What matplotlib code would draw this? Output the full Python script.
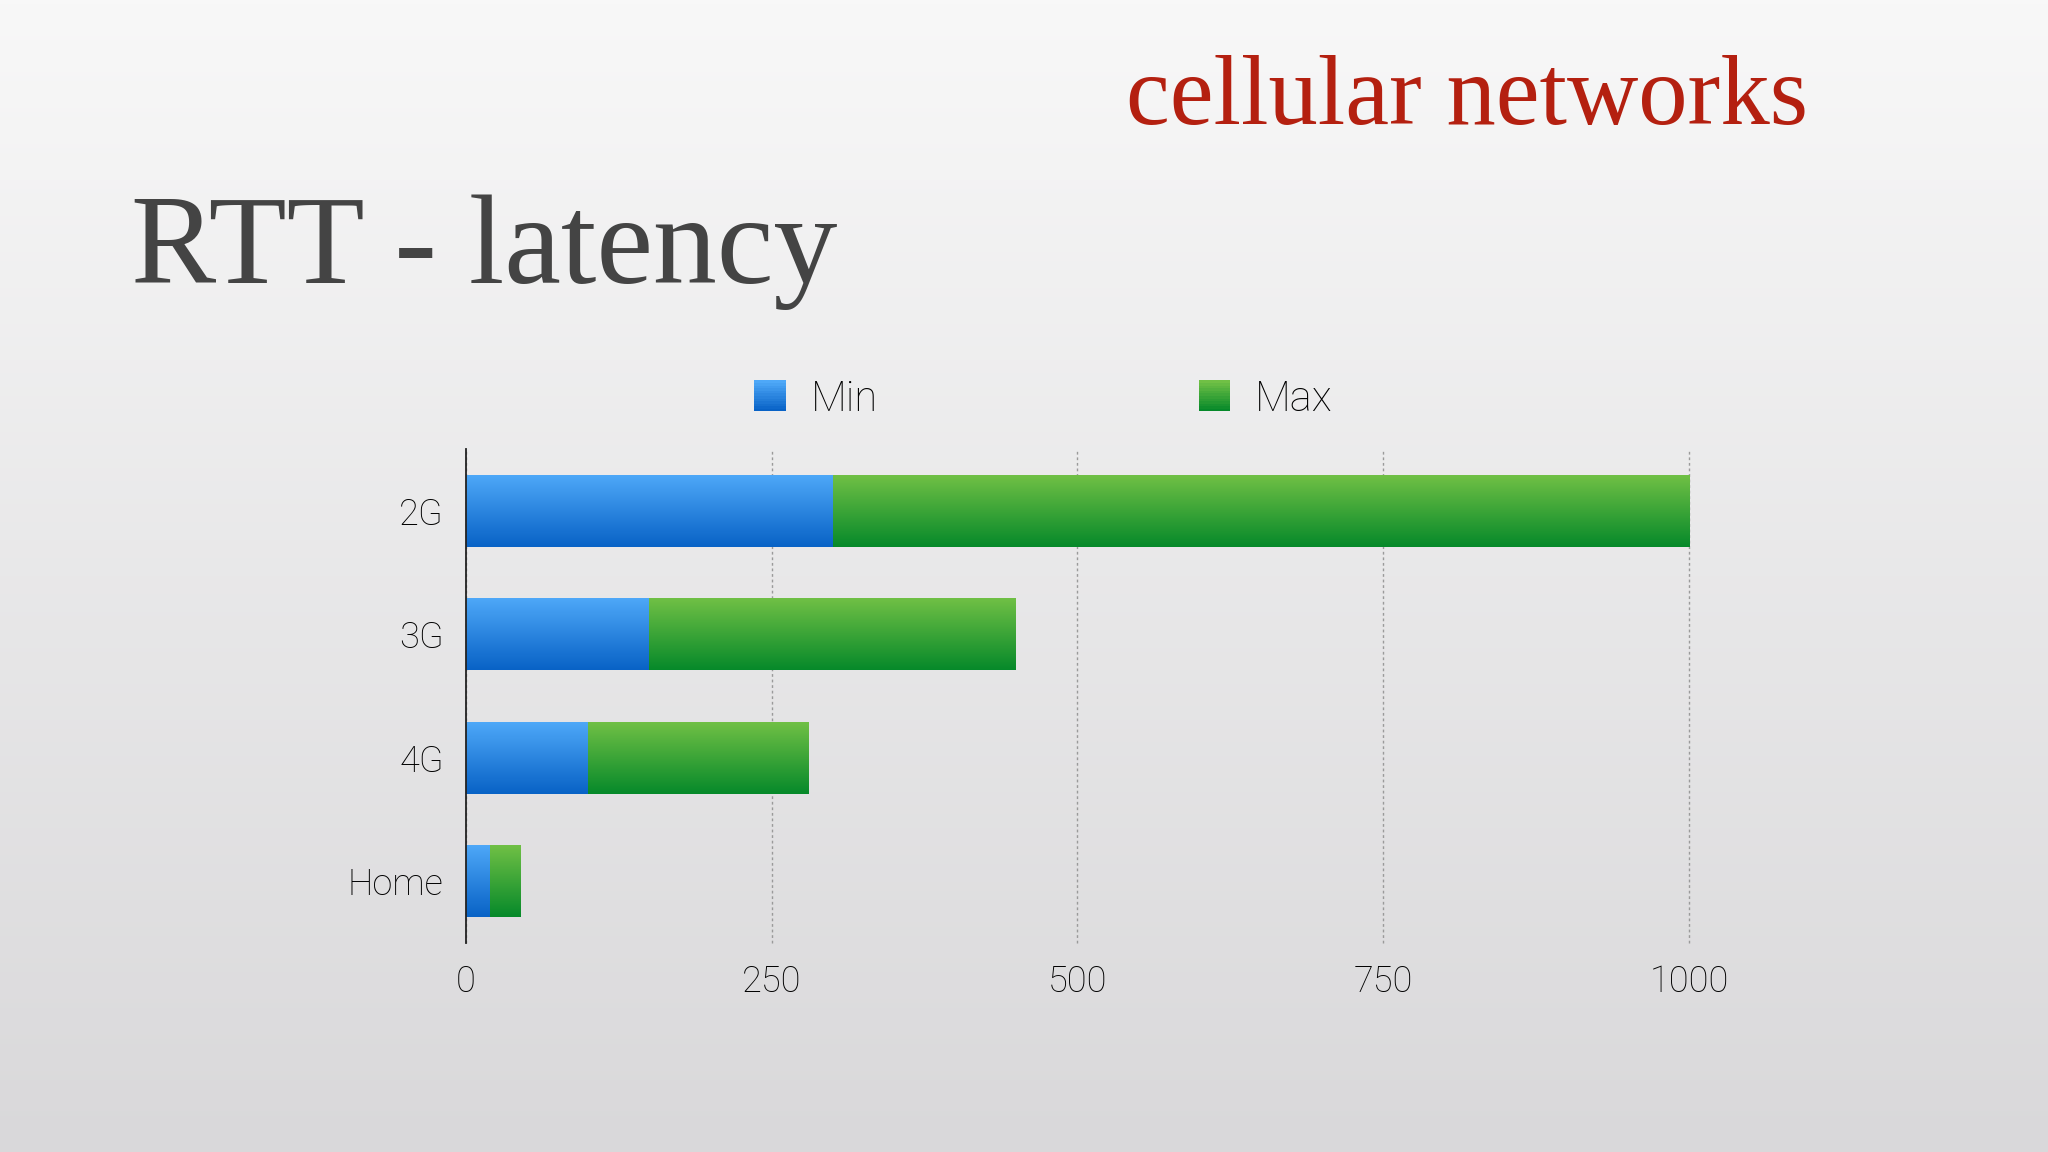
import numpy as np
import matplotlib
matplotlib.use('Agg')
import matplotlib.pyplot as plt
from matplotlib.colors import LinearSegmentedColormap
from matplotlib.patches import Rectangle
from matplotlib.legend_handler import HandlerBase

# data (ms)
categories = ['2G', '3G', '4G', 'Home']
rtt_min = [300, 150, 100, 20]
rtt_max = [1000, 450, 280, 45]
xticks = [0, 250, 500, 750, 1000]

plt.rcParams['font.family'] = ['Roboto', 'DejaVu Sans']
plt.rcParams['font.weight'] = 'light'

blue_cmap = LinearSegmentedColormap.from_list('b', ['#4ea8f8', '#0862c6'])
green_cmap = LinearSegmentedColormap.from_list('g', ['#70c045', '#06892a'])
bg_cmap = LinearSegmentedColormap.from_list('bg', ['#f8f8f8', '#d9d8da'])
grad = np.linspace(0, 1, 256).reshape(-1, 1)

fig = plt.figure(figsize=(20.48, 11.52), dpi=100)

# slide background
bg = fig.add_axes([0, 0, 1, 1], zorder=-10)
bg.imshow(grad, cmap=bg_cmap, aspect='auto', extent=(0, 1, 0, 1))
bg.axis('off')

fig.text(0.064, 0.7543, 'RTT - latency', family='Liberation Serif',
         fontsize=92, color='#444444', weight='normal', va='baseline')
fig.text(0.5498, 0.8924, 'cellular networks', family='Liberation Serif',
         fontsize=71, color='#b42010', weight='normal', va='baseline')

ax = fig.add_axes([0.2275, 0.1814, 0.5972, 0.4288])
ax.set_facecolor('none')

y = np.arange(len(categories))
mins = np.array(rtt_min)
maxs = np.array(rtt_max)
bars_min = ax.barh(y, mins, height=0.58, facecolor='none', edgecolor='none')
bars_max = ax.barh(y, maxs - mins, left=mins, height=0.58, facecolor='none', edgecolor='none')


def fill_gradient(bars, cmap):
    for p in bars:
        x0, y0, w, h = p.get_x(), p.get_y(), p.get_width(), p.get_height()
        im = ax.imshow(grad, cmap=cmap, aspect='auto', origin='upper',
                       extent=(x0, x0 + w, y0 + h, y0), zorder=2)
        im.set_clip_path(p)


fill_gradient(bars_min, blue_cmap)
fill_gradient(bars_max, green_cmap)

ax.set_xlim(0, 1000)
ax.set_ylim(len(categories) - 0.5, -0.5)
ax.set_yticks(y)
ax.set_yticklabels(categories)
ax.set_xticks(xticks)
ax.tick_params(axis='both', length=0, labelsize=26, colors='#000000')
ax.tick_params(axis='y', pad=16)
ax.tick_params(axis='x', pad=15)
ax.xaxis.grid(True, linestyle=(0, (2, 2)), color='#9a9a9a', linewidth=1)
for gl in ax.get_xgridlines():
    gl.set_clip_on(False)
ax.set_axisbelow(True)
for s in ['top', 'right', 'bottom']:
    ax.spines[s].set_visible(False)
ax.spines['left'].set_color('#222222')
ax.spines['left'].set_linewidth(1.3)


class GradHandler(HandlerBase):
    def __init__(self, cmap):
        super().__init__()
        self.cmap = cmap

    def create_artists(self, legend, orig, xd, yd, width, height, fontsize, trans):
        n = 12
        arts = []
        for i in range(n):
            c = self.cmap(1 - i / (n - 1))
            arts.append(Rectangle((-xd, -yd + height * i / n), width, height / n + 0.3,
                                  facecolor=c, edgecolor='none', transform=trans))
        return arts


h_min = Rectangle((0, 0), 1, 1)
h_max = Rectangle((0, 0), 1, 1)
fig.legend([h_min, h_max], ['Min', 'Max'], loc='center', bbox_to_anchor=(0.5095, 0.6536),
           ncol=2, frameon=False, fontsize=30, handlelength=0.75, handleheight=0.75,
           handletextpad=0.6, columnspacing=7.7, borderpad=0,
           handler_map={h_min: GradHandler(blue_cmap), h_max: GradHandler(green_cmap)})

fig.savefig('out.png', dpi=100)
